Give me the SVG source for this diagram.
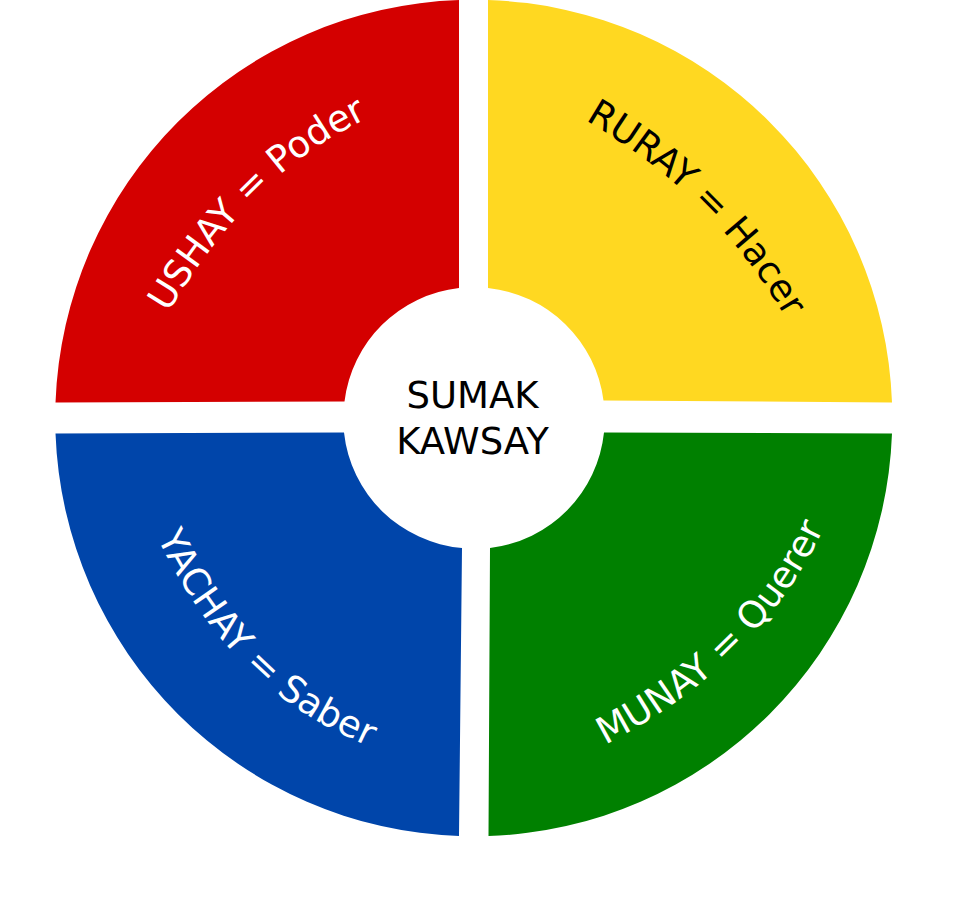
<svg xmlns="http://www.w3.org/2000/svg" width="953" height="902" viewBox="0 0 953 902">
<style>
text{font-family:"DejaVu Sans",sans-serif;font-size:37px}
.w{fill:#fff}.k{fill:#000}
.c{text-anchor:middle}
</style>
<defs>
<path id="p1" d="M168 313Q248 179 352 126L394 104"/>
<path id="p2" d="M585 120Q712 193 784 315L808 356"/>
<path id="p3" d="M157 537Q225 678 340 733L380 752"/>
<path id="p4" d="M605 745Q757 666 822 532L842 491"/>
</defs>
<rect width="953" height="902" fill="#fff"/>
<g id="ushay"><path d="M459 0A418 418 0 0 0 55.500 402.500L344.500 401.500A130 130 0 0 1 459 288Z" fill="#d40000"/>
<text class="w"><textPath href="#p1">USHAY = Poder</textPath></text></g>
<g id="ruray"><path d="M488 0A418 418 0 0 1 892 402.500L603.500 400.500A130 130 0 0 0 488 288Z" fill="#ffd821"/>
<text class="k"><textPath href="#p2">RURAY = Hacer</textPath></text></g>
<g id="yachay"><path d="M55.500 433.500A418 418 0 0 0 459 836L462 548A130 130 0 0 1 344 432.500Z" fill="#0045aa"/>
<text class="w"><textPath href="#p3">YACHAY = Saber</textPath></text></g>
<g id="munay"><path d="M892 433.500A418 418 0 0 1 488.500 836L490 548A130 130 0 0 0 604 432.500Z" fill="#008000"/>
<text class="w"><textPath href="#p4">MUNAY = Querer</textPath></text></g>
<g id="center"><text class="k c" x="472.500" y="408">SUMAK</text><text class="k c" x="472.500" y="454">KAWSAY</text></g>
<g id="connectors"/>
</svg>
